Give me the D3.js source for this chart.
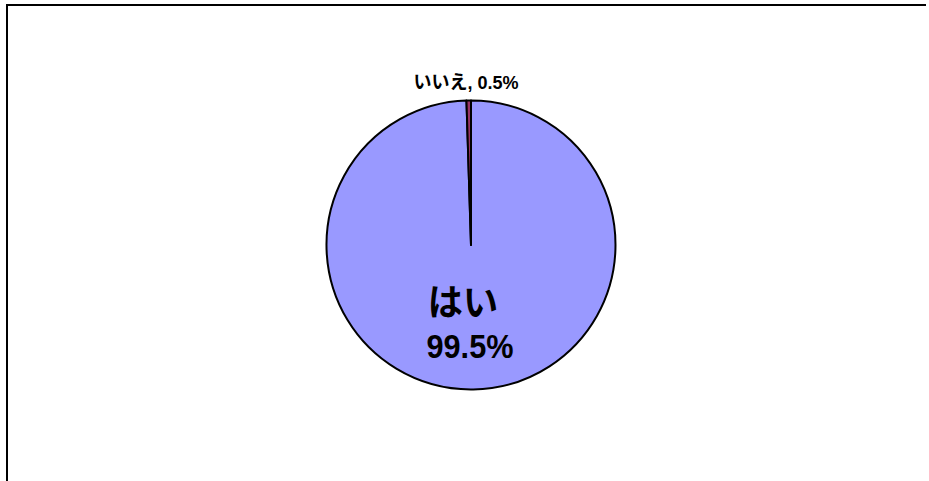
<!DOCTYPE html>
<html lang="ja">
<head>
<meta charset="UTF-8">
<title>はい / いいえ</title>
<script src="https://d3js.org/d3.v7.min.js"></script>
<style>
  body { margin: 0; background: #fff; }
  svg { display: block; }
  text { font-family: "Liberation Sans", Arial, "Noto Sans CJK JP", sans-serif; font-weight: bold; fill: #000; }
</style>
</head>
<body>
<svg id="chart"></svg>
<script>
const categories = ["はい", "いいえ"];
const values = [99.5, 0.5];
const colors = ["#9999FF", "#993366"];

const width = 929, height = 481;
const cx = 471, cy = 245, radius = 144.5;

const svg = d3.select("#chart").attr("width", width).attr("height", height);

// chart frame: only left and top edges show inside the window
svg.append("path")
   .attr("d", "M7,490V5H926")
   .attr("fill", "none").attr("stroke", "#000").attr("stroke-width", 2);

const data = categories.map((c, i) => ({ name: c, value: values[i], color: colors[i] }));

const pie = d3.pie().sort(null).value(d => d.value);
const arc = d3.arc().innerRadius(0).outerRadius(radius);

const g = svg.append("g").attr("transform", `translate(${cx},${cy})`);

const arcs = pie(data);

g.selectAll("path")
 .data(arcs)
 .enter()
 .append("path")
 .attr("d", arc)
 .attr("fill", d => d.data.color)
 .attr("stroke", "#000")
 .attr("stroke-width", 2)
 .attr("stroke-linejoin", "round");

// big label inside the main slice (slightly condensed, like the original)
const big = arcs[0];
g.append("text")
 .attr("transform", "translate(-8,71) scale(0.95,1)")
 .attr("text-anchor", "middle")
 .style("font-size", "37px")
 .text(big.data.name);
g.append("text")
 .attr("transform", "translate(-1,113) scale(0.93,1)")
 .attr("text-anchor", "middle")
 .style("font-size", "33px")
 .text(d3.format(".1f")(big.data.value) + "%");

// small label outside the thin slice
const small = arcs[1];
g.append("text")
 .attr("transform", `translate(-5,${-radius - 12}) scale(0.95,1)`)
 .attr("text-anchor", "middle")
 .style("font-size", "19px")
 .text(`${small.data.name}, ${d3.format(".1f")(small.data.value)}%`);
</script>
</body>
</html>
